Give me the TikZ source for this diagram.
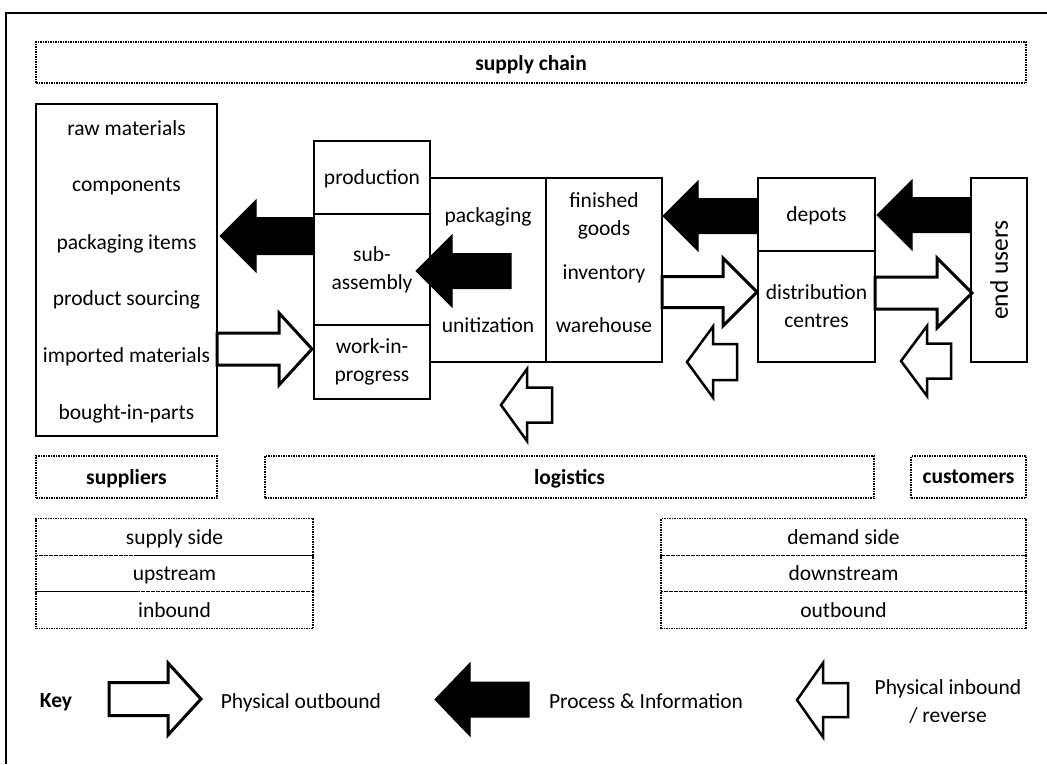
\documentclass[tikz,border=0pt]{standalone}
\usepackage{fontspec}
\setmainfont{Carlito}
\usetikzlibrary{positioning}

% block arrow: style, tip x, tail x, mid y, shaft half, head half, head base x
\newcommand{\blockarrow}[7]{%
  \draw[#1] (#2,#4) -- (#7,#4-#6) -- (#7,#4-#5) -- (#3,#4-#5)
    -- (#3,#4+#5) -- (#7,#4+#5) -- (#7,#4+#6) -- cycle;
}

\begin{document}
\begin{tikzpicture}[
    x=1pt, y=-1pt,
    font=\fontsize{21.5}{28}\selectfont,
    box/.style={draw, line width=1.2pt, inner sep=0pt, outer sep=0pt, align=center},
    dotbox/.style={draw, dash pattern=on 1.5pt off 1pt, line width=1.1pt, inner sep=0pt, outer sep=0pt},
    oneline/.style={text depth=0pt},
    bold/.style={font=\fontsize{21.5}{28}\selectfont\bfseries},
    info/.style={fill=black, draw=black, line width=1pt, line join=miter},
    outb/.style={fill=white, draw=black, line width=3pt, line join=miter},
    inb/.style={fill=white, draw=black, line width=2.5pt, line join=miter},
]
\useasboundingbox (0,0) rectangle (1047,764);

% frame
\draw[line width=2pt] (1047,13) -- (6,13) -- (6,764);

% Heading
\node[dotbox, bold, oneline, minimum width=990, minimum height=41] (chain) at (531,62.5) {supply chain};

% Suppliers box
\node[box, minimum width=181, minimum height=332] (sup) at (126.5,270) {};
\foreach \t [count=\i] in {raw materials, components, packaging items,
                           product sourcing, imported materials, bought-in-parts}
  \node[oneline] (item\i) at (126.5, 71.2+56.8*\i) {\t};

% Production column
\node[box, oneline, minimum width=116, minimum height=73] (prod) at (372,177.5) {production};
\node[box, minimum width=116, minimum height=111, below=0pt of prod] (sub) {sub-\\assembly};
\node[box, minimum width=116, minimum height=74,  below=0pt of sub]  (wip) {work-in-\\progress};

% Packaging and warehouse
\node[box, minimum width=116, minimum height=184] (pack) at (488,270) {};
\node[oneline] (packtxt) at (488,215) {packaging};
\node[oneline] (unit)    at (488,325) {unitization};
\node[box, minimum width=116, minimum height=184, right=0pt of pack] (fin) {};
\node[align=center] (fingoods) at (604,215.5) {finished\\goods};
\node[oneline] (inv)  at (604,272) {inventory};
\node[oneline] (ware) at (604,325) {warehouse};

% Distribution
\node[box, oneline, minimum width=117, minimum height=73] (dep) at (816.5,214.5) {depots};
\node[box, minimum width=117, minimum height=111, below=0pt of dep] (dist) {distribution\\centres};

% Customers
\node[box, minimum width=56, minimum height=184] (endu) at (999,270) {};
\node[rotate=90, font=\fontsize{25.5}{28}\selectfont] (endtxt) at (endu) {end users};

% Process & information arrows
\blockarrow{info}{220}{314}{236}{18.5}{36}{256}
\blockarrow{info}{416}{511}{271}{17.5}{36}{452}
\blockarrow{info}{663}{758}{216}{17.5}{35}{698}
\blockarrow{info}{877}{971}{215}{17.5}{35}{912}

% Physical outbound arrows
\blockarrow{outb}{312}{217}{349}{16}{36}{279}
\blockarrow{outb}{757}{662}{292}{15.5}{34}{723}
\blockarrow{outb}{972}{875}{293}{16}{35}{937}

% Physical inbound / reverse arrows
\blockarrow{inb}{501}{552}{405}{17.5}{36}{527}
\blockarrow{inb}{687}{737}{362}{18}{35.5}{713}
\blockarrow{inb}{901}{951}{361}{17.5}{35}{927}

% Parties
\node[dotbox, bold, oneline, minimum width=181, minimum height=42] (suppliers) at (126.5,477) {suppliers};
\node[dotbox, bold, oneline, minimum width=609, minimum height=42] (logistics) at (569.5,477) {logistics};
\node[dotbox, bold, oneline, minimum width=115, minimum height=42] (customers) at (968.5,477) {customers};

% Sides
\node[dotbox, oneline, minimum width=277, minimum height=37] (supside) at (174.5,537) {supply side};
\node[dotbox, oneline, minimum width=277, minimum height=36, below=0pt of supside] (up) {upstream};
\node[dotbox, oneline, minimum width=277, minimum height=37, below=0pt of up] (inbound) {inbound};
\node[dotbox, oneline, minimum width=365, minimum height=37] (demside) at (843.5,537) {demand side};
\node[dotbox, oneline, minimum width=365, minimum height=36, below=0pt of demside] (down) {downstream};
\node[dotbox, oneline, minimum width=365, minimum height=37, below=0pt of down] (outbound) {outbound};

% Key
\node[bold, oneline] (key) at (56,701) {Key};
\blockarrow{outb}{201}{109}{699}{16.5}{36}{168}
\node[oneline] (kout) at (301,701) {Physical outbound};
\blockarrow{info}{435}{529}{699.5}{17.5}{36.5}{470}
\node[oneline] (kinfo) at (646,701) {Process \& Information};
\blockarrow{inb}{797}{848}{700}{17}{37}{823}
\node[align=center] (kin) at (948,701) {Physical inbound\\/ reverse};

\end{tikzpicture}
\end{document}
